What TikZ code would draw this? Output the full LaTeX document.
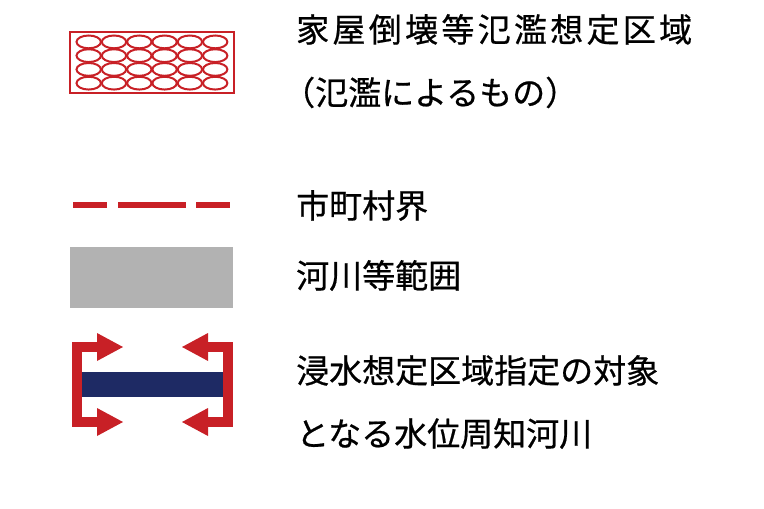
\documentclass[tikz,border=0pt]{standalone}
\usepackage{fontspec}
\newfontfamily\jpfont[FakeBold=0.6]{Noto Sans CJK JP}
\definecolor{legred}{RGB}{200,32,38}
\definecolor{legnavy}{RGB}{30,42,100}
\definecolor{leggray}{RGB}{178,178,178}
\begin{document}
\begin{tikzpicture}[x=1bp,y=-1bp,
  lbl/.style={anchor=west,inner sep=0pt,text height=27bp,text depth=5bp,font=\jpfont\fontsize{33bp}{36bp}\selectfont},
  redline/.style={draw=legred,line width=2bp},
  dashseg/.style={draw=legred,line width=6bp},
  bracket/.style={draw=legred,line width=10bp,line join=miter},
  head/.style={fill=legred}]
\useasboundingbox (0,0) rectangle (764,509);
\fill[white] (0,0) rectangle (764,509);
% hatched area symbol
\draw[redline,line width=2.2bp] (70,32) rectangle (234,93);
\foreach \i in {0,...,5}{
  \foreach \j in {0,...,3}{
    \draw[redline] ({88.7+25.3*\i},{41.9+13.75*\j}) ellipse [x radius=12.2bp,y radius=6.4bp];
  }
}
% municipal boundary
\coordinate (d1a) at (73,205); \coordinate (d1b) at (107,205);
\coordinate (d2a) at (118,205); \coordinate (d2b) at (186,205);
\coordinate (d3a) at (196,205); \coordinate (d3b) at (230,205);
\draw[dashseg] (d1a) -- (d1b);
\draw[dashseg] (d2a) -- (d2b);
\draw[dashseg] (d3a) -- (d3b);
% river area
\fill[leggray] (70,247) rectangle (233,308);
% river symbol
\draw[bracket] (99,347) -- (77,347) -- (77,422) -- (99,422);
\draw[bracket] (206,347) -- (228,347) -- (228,422) -- (206,422);
\fill[head] (97,333) -- (123,347) -- (97,361) -- cycle;
\fill[head] (97,408) -- (123,422) -- (97,436) -- cycle;
\fill[head] (208,333) -- (182,347) -- (208,361) -- cycle;
\fill[head] (208,408) -- (182,422) -- (208,436) -- cycle;
\fill[legnavy] (82,372) rectangle (223,397);
% labels
\node[lbl,font=\jpfont\fontsize{33bp}{36bp}\selectfont\addfontfeatures{LetterSpace=10}] (t1) at (296,31) {家屋倒壊等氾濫想定区域};
\node[lbl] (t2) at (282,94) {（氾濫によるもの）};
\node[lbl] (t3) at (296,207) {市町村界};
\node[lbl] (t4) at (296,277) {河川等範囲};
\node[lbl] (t5) at (296,372) {浸水想定区域指定の対象};
\node[lbl] (t6) at (296,435) {となる水位周知河川};
\end{tikzpicture}
\end{document}
